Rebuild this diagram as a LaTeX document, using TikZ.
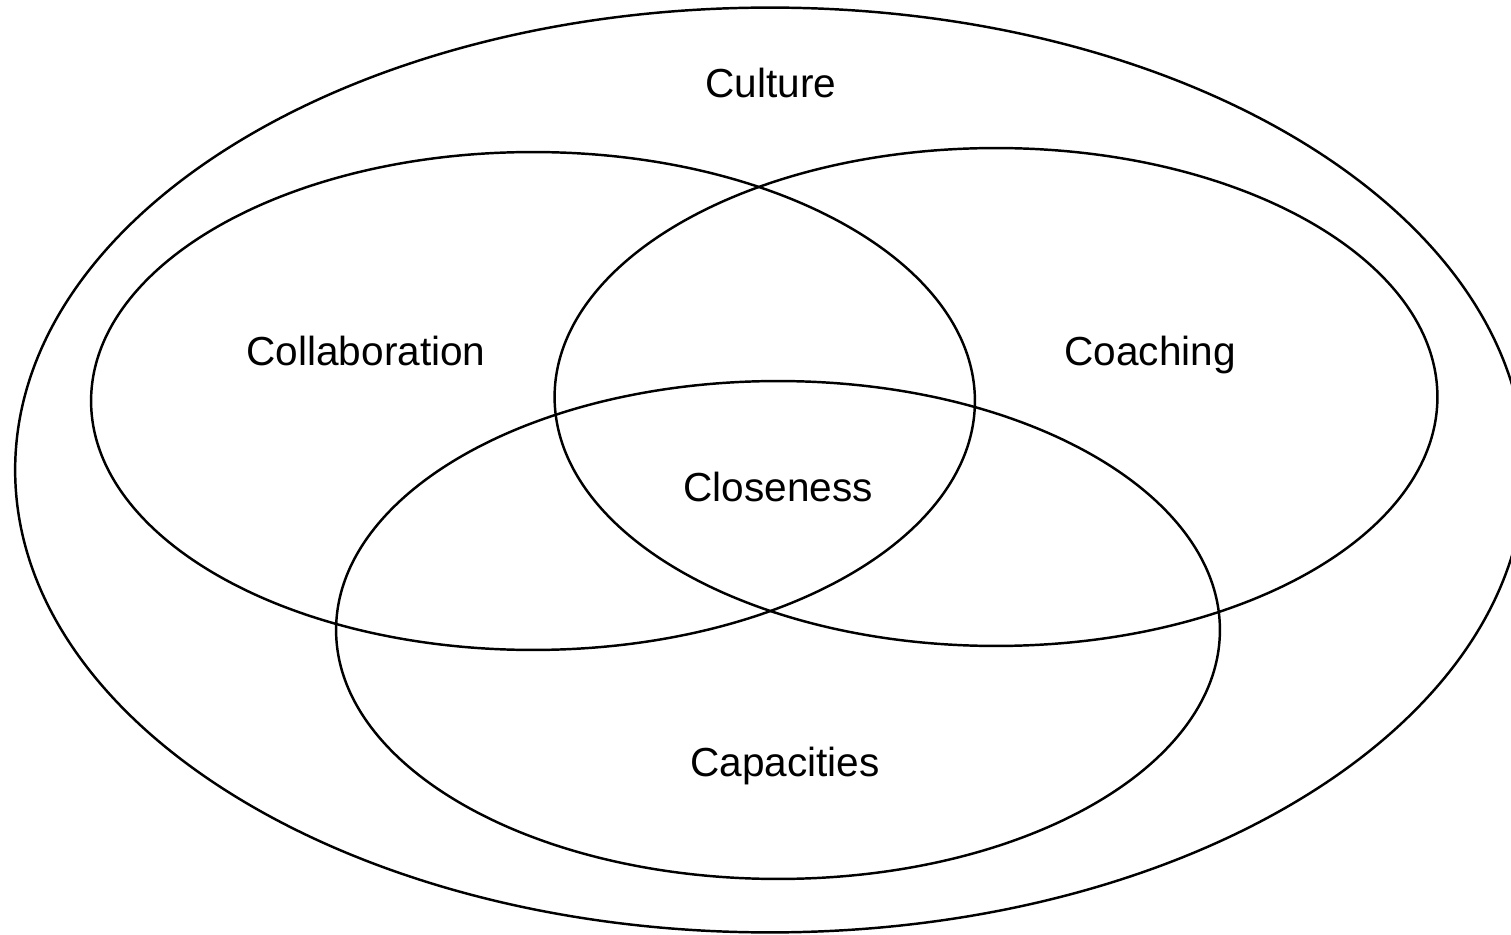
\documentclass[tikz,border=0pt]{standalone}
\usepackage{fontspec}
\setmainfont{Liberation Sans}
\usetikzlibrary{shapes.geometric}
\begin{document}
\begin{tikzpicture}[x=0.02cm,y=-0.02cm,
  set/.style={draw=black,line width=1.4pt,ellipse,inner sep=0pt},
  lbl/.style={anchor=base,inner sep=0pt,font=\fontsize{23.1}{27}\selectfont}]
\useasboundingbox (0,0) rectangle (1511,935);
\fill[white] (0,0) rectangle (1511,935);
\node[set,minimum width=30.2cm,minimum height=18.5cm] (culture) at (770,470) {};
\node[set,minimum width=17.68cm,minimum height=9.96cm] (collab) at (533,401) {};
\node[set,minimum width=17.66cm,minimum height=9.96cm] (coach) at (996,397) {};
\node[set,minimum width=17.68cm,minimum height=9.96cm] (capac) at (778,630) {};
\node[lbl] (tculture) at (771,98) {Culture};
\node[lbl] (tcollab) at (366,366) {Collaboration};
\node[lbl] (tcoach) at (1150,366) {Coaching};
\node[lbl] (tclose) at (778,501) {Closeness};
\node[lbl] (tcapac) at (785,776) {Capacities};
\end{tikzpicture}
\end{document}
